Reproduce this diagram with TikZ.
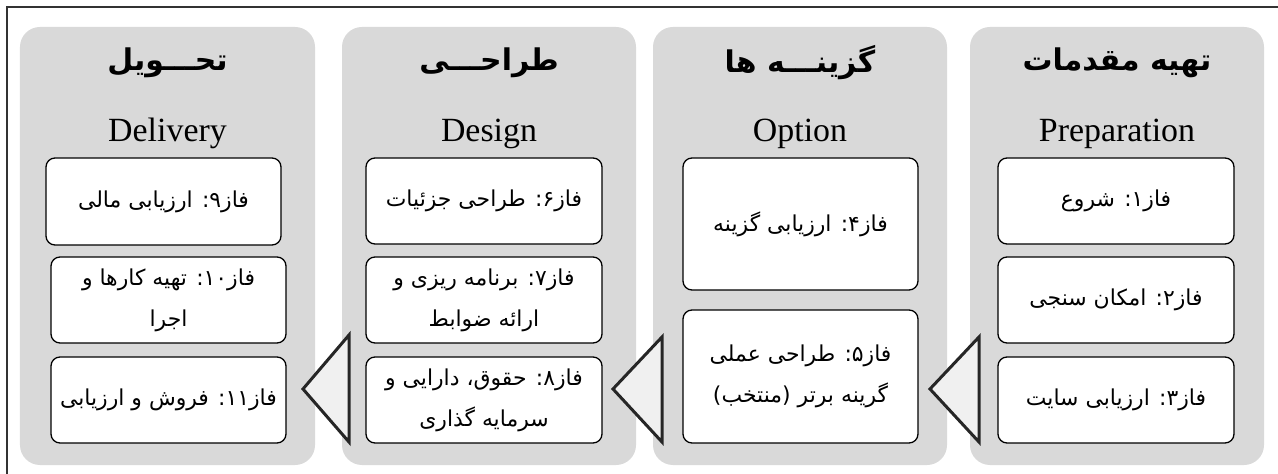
\documentclass[tikz,border=0pt]{standalone}
\usepackage{fontspec}
\setmainfont{Liberation Serif}
\newfontfamily\arabicfont[Script=Arabic]{DejaVu Sans}
\TeXXeTstate=1
\definecolor{panelgray}{HTML}{D9D9D9}
\definecolor{trifill}{HTML}{F0F0F0}
\definecolor{tridark}{HTML}{262626}
\definecolor{framegray}{HTML}{333333}
\tikzset{
  panel/.style={fill=panelgray, draw=none, rounded corners=20bp},
  phasebox/.style={draw=black, line width=1.3bp, fill=white, rounded corners=9bp,
    align=center, inner sep=2bp, font=\arabicfont\fontsize{22}{41}\selectfont},
  fahead/.style={font=\arabicfont\bfseries\fontsize{30}{34}\selectfont, inner sep=0pt},
  enhead/.style={font=\fontsize{34}{38}\selectfont, inner sep=0pt, anchor=base},
  tri/.style={draw=tridark, line width=3bp, fill=trifill, line join=miter}
}
\begin{document}
\begin{tikzpicture}[x=1bp,y=-1bp]
\useasboundingbox (0,0) rectangle (1278,474);
\fill[white] (0,0) rectangle (1278,474);
\draw[line width=2bp, draw=framegray] (7,474) -- (7,7) -- (1278,7);

% panels
\node[panel, minimum width=295bp, minimum height=438bp] (pdel) at (167.5,246) {};
\node[panel, minimum width=294bp, minimum height=438bp] (pdes) at (489,246) {};
\node[panel, minimum width=294bp, minimum height=438bp] (popt) at (800,246) {};
\node[panel, minimum width=294bp, minimum height=438bp] (pprep) at (1117,246) {};

% headers
\node[fahead] (hprep) at (1117,63) {\beginR تهیه مقدمات\endR};
\node[fahead] (hopt) at (800,63) {\beginR گزینـــه ها\endR};
\node[fahead] (hdes) at (489,63) {\beginR طراحـــی\endR};
\node[fahead] (hdel) at (167.5,63) {\beginR تحـــویل\endR};
\node[enhead] (eprep) at (1117,142) {Preparation};
\node[enhead] (eopt) at (800,142) {Option};
\node[enhead] (edes) at (489,142) {Design};
\node[enhead] (edel) at (167.5,142) {Delivery};

% Preparation boxes
\node[phasebox, minimum width=236bp, minimum height=86bp] (b1) at (1116,201) {\beginR فاز۱: شروع\endR};
\node[phasebox, minimum width=236bp, minimum height=86bp] (b2) at (1116,300) {\beginR فاز۲: امکان سنجی\endR};
\node[phasebox, minimum width=236bp, minimum height=86bp] (b3) at (1116,400) {\beginR فاز۳: ارزیابی سایت\endR};

% Option boxes
\node[phasebox, minimum width=235bp, minimum height=132bp] (b4) at (800.5,224) {\beginR فاز۴: ارزیابی گزینه\endR};
\node[phasebox, minimum width=235bp, minimum height=133bp] (b5) at (800.5,376.5) {\beginR فاز۵: طراحی عملی\endR\\\beginR گرینه برتر (منتخب)\endR};

% Design boxes
\node[phasebox, minimum width=236bp, minimum height=86bp] (b6) at (484,201) {\beginR فاز۶: طراحی جزئیات\endR};
\node[phasebox, minimum width=236bp, minimum height=86bp] (b7) at (484,300) {\beginR فاز۷: برنامه ریزی و\endR\\\beginR ارائه ضوابط\endR};
\node[phasebox, minimum width=236bp, minimum height=86bp] (b8) at (484,400) {\beginR فاز۸: حقوق، دارایی و\endR\\\beginR سرمایه گذاری\endR};

% Delivery boxes
\node[phasebox, minimum width=235bp, minimum height=87bp] (b9) at (163.5,201.5) {\beginR فاز۹: ارزیابی مالی\endR};
\node[phasebox, minimum width=235bp, minimum height=86bp] (b10) at (168.5,300) {\beginR فاز۱۰: تهیه کارها و\endR\\\beginR اجرا\endR};
\node[phasebox, minimum width=235bp, minimum height=86bp] (b11) at (168.5,400) {\beginR فاز۱۱: فروش و ارزیابی\endR};

% arrows (triangles)
\draw[tri] (979,337) -- (930,389) -- (979,442) -- cycle;
\draw[tri] (662,337) -- (613,389) -- (662,442) -- cycle;
\draw[tri] (349,335) -- (303,389) -- (349,442) -- cycle;
\end{tikzpicture}
\end{document}
